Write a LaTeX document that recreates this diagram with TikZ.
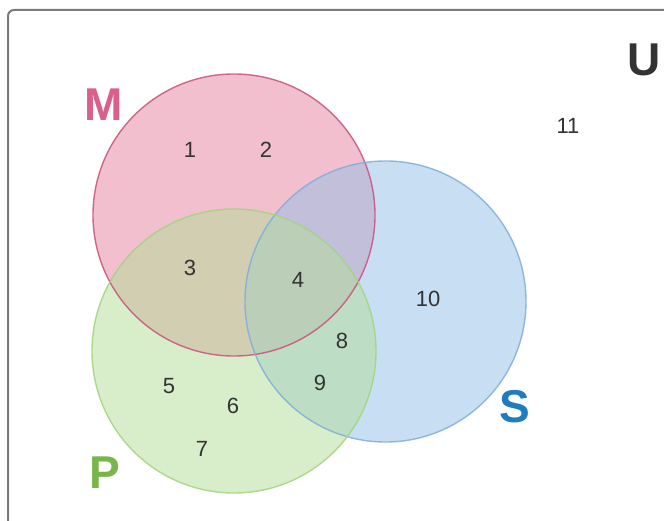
\documentclass[tikz,border=0pt]{standalone}
\usepackage{fontspec}
\setmainfont{Liberation Sans}
\definecolor{mfill}{HTML}{E6819F}
\definecolor{mline}{HTML}{C9517C}
\definecolor{pfill}{HTML}{B3DE96}
\definecolor{pline}{HTML}{A2D47F}
\definecolor{sfill}{HTML}{93C0E8}
\definecolor{sline}{HTML}{7FAEDB}
\definecolor{mlab}{HTML}{DA5F8B}
\definecolor{plab}{HTML}{79B548}
\definecolor{slab}{HTML}{1F7DBD}
\definecolor{ulab}{HTML}{333333}
\definecolor{frame}{HTML}{7A7A7A}
\begin{document}
\begin{tikzpicture}[x=1pt,y=-1pt,
  setfill/.style={fill=#1, fill opacity=0.5},
  setline/.style={draw=#1, line width=1.4pt, draw opacity=0.85},
  num/.style={font=\fontsize{22}{24}\selectfont, text=ulab, inner sep=0pt},
  setlab/.style={font=\fontsize{46}{48}\selectfont\bfseries, inner sep=0pt, text=#1}]
\useasboundingbox (0,0) rectangle (664,521);
\fill[white] (0,0) rectangle (664,521);
\draw[frame, line width=2pt, rounded corners=6pt] (8,10) rectangle (700,560);
% circles
\coordinate (cm) at (234,215);
\coordinate (cp) at (234,351);
\coordinate (cs) at (385.5,301.5);
\fill[setfill=mfill] (cm) circle[radius=141];
\fill[setfill=sfill] (cs) circle[radius=140.5];
\fill[setfill=pfill] (cp) circle[radius=142];
\draw[setline=mline] (cm) circle[radius=141];
\draw[setline=sline] (cs) circle[radius=140.5];
\draw[setline=pline] (cp) circle[radius=142];
% labels
\node[setlab=mlab] (M) at (104,105) {M};
\node[setlab=plab] (P) at (105,473) {P};
\node[setlab=slab] (S) at (515,407) {S};
\node[setlab=ulab] (U) at (644,60) {U};
% numbers
\node[num] (n1) at (190,150) {1};
\node[num] (n2) at (266,150) {2};
\node[num] (n3) at (190,268) {3};
\node[num] (n4) at (298,280) {4};
\node[num] (n5) at (169,386) {5};
\node[num] (n6) at (233,406) {6};
\node[num] (n7) at (202,449) {7};
\node[num] (n8) at (342,341) {8};
\node[num] (n9) at (320,383) {9};
\node[num] (n10) at (428,299) {10};
\node[num] (n11) at (568,126) {11};
\end{tikzpicture}
\end{document}
